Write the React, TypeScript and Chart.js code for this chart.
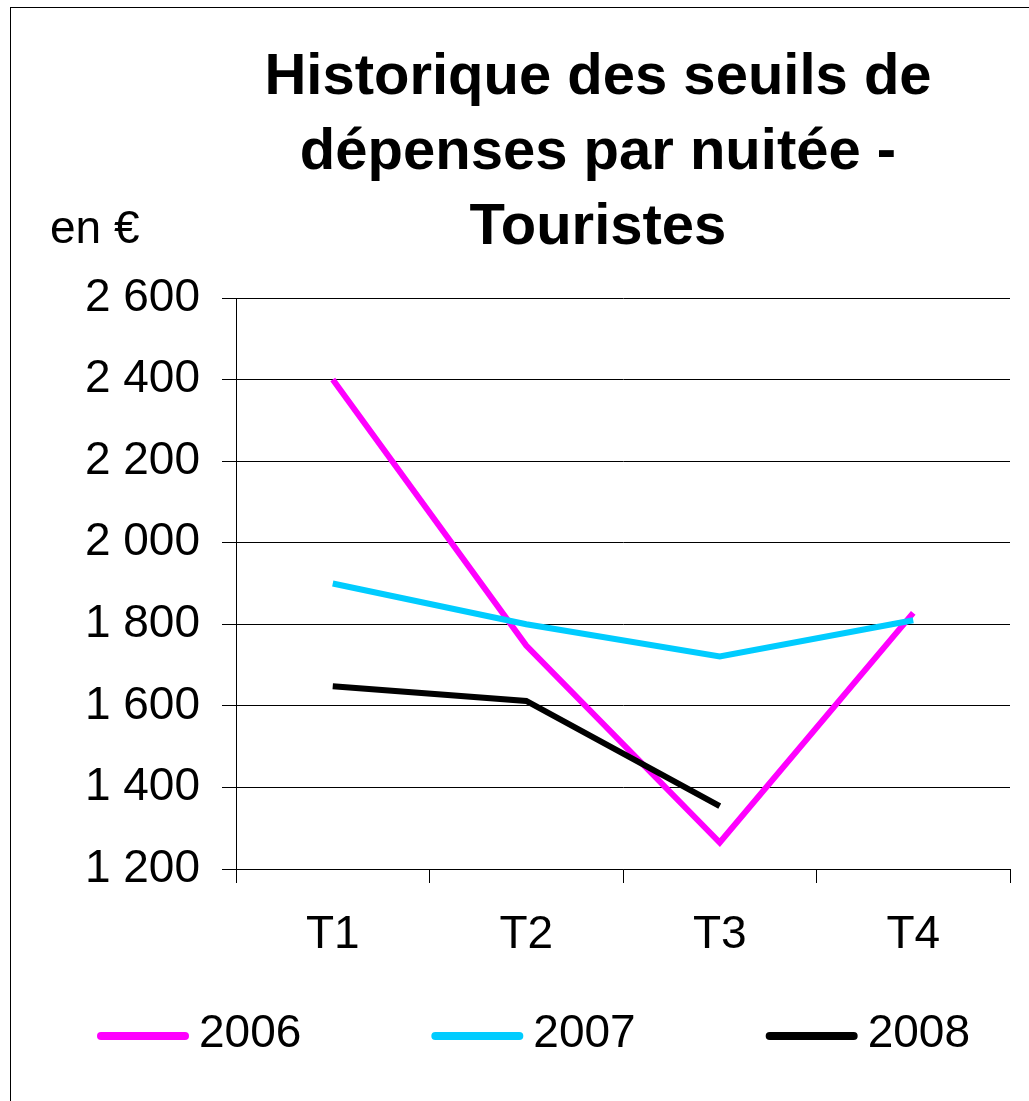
import React, { useEffect, useRef } from "react";
import { Chart, registerables } from "chart.js";

Chart.register(...registerables);

const categories = ["T1", "T2", "T3", "T4"];
const seriesNames = ["2006", "2007", "2008"];
const values2006 = [2400, 1748, 1265, 1828];
const values2007 = [1900, 1800, 1721, 1810];
const values2008: (number | null)[] = [1648, 1612, 1354, null];
const seriesColors = ["#FF00FF", "#00CCFF", "#000000"];
const yMin = 1200;
const yMax = 2600;
const yStep = 200;
const titleLines = ["Historique des seuils de", "dépenses par nuitée -", "Touristes"];
const unitLabel = "en €";

const FONT = '"Liberation Sans", Arial, Helvetica, sans-serif';
const W = 1174;
const H = 1120;

function fmt(v: number): string {
  return String(v).replace(/\B(?=(\d{3})+(?!\d))/g, " ");
}

export default function App() {
  const ref = useRef<HTMLCanvasElement | null>(null);

  useEffect(() => {
    if (!ref.current) return;
    const seriesValues = [values2006, values2007, values2008];

    const extras = {
      id: "extras",
      afterDraw(chart: any) {
        const ctx = chart.ctx as CanvasRenderingContext2D;
        ctx.save();
        ctx.fillStyle = "#000";
        ctx.font = `46px ${FONT}`;
        ctx.textAlign = "left";
        ctx.textBaseline = "alphabetic";
        ctx.fillText(unitLabel, 39, 235);

        // legend
        let x = 86;
        const lineY = 1028;
        const textBase = 1039;
        const lineLen = 92;
        const lw = 8;
        seriesNames.forEach((name, i) => {
          ctx.strokeStyle = seriesColors[i];
          ctx.lineWidth = lw;
          ctx.lineCap = "round";
          ctx.beginPath();
          ctx.moveTo(x + lw / 2, lineY);
          ctx.lineTo(x + lineLen - lw / 2, lineY);
          ctx.stroke();
          const tx = x + lineLen + 10;
          ctx.fillStyle = "#000";
          ctx.fillText(name, tx, textBase);
          x = tx + ctx.measureText(name).width + 130;
        });
        ctx.restore();
      },
    };

    const chart = new Chart(ref.current, {
      type: "line",
      data: {
        labels: categories,
        datasets: seriesNames.map((name, i) => ({
          label: name,
          data: seriesValues[i],
          borderColor: seriesColors[i],
          backgroundColor: seriesColors[i],
          borderWidth: 6,
          pointRadius: 0,
          pointHoverRadius: 0,
          tension: 0,
          fill: false,
          spanGaps: false,
          order: seriesNames.length - 1 - i,
        })),
      },
      options: {
        responsive: false,
        animation: false,
        devicePixelRatio: 1,
        layout: { padding: { left: 0, right: 0, top: 0, bottom: 139 } },
        plugins: {
          legend: { display: false },
          tooltip: { enabled: false },
          title: {
            display: true,
            text: titleLines,
            color: "#000",
            font: { family: FONT, size: 58, weight: "bold", lineHeight: 75 / 58 },
            padding: { top: 32, bottom: 33 },
          },
        },
        scales: {
          x: {
            offset: true,
            grid: {
              offset: true,
              drawOnChartArea: false,
              drawTicks: true,
              tickLength: 14,
              color: "#000",
              lineWidth: 1,
            },
            border: { display: true, color: "#000", width: 1 },
            ticks: {
              color: "#000",
              font: { family: FONT, size: 46 },
              padding: 25,
              maxRotation: 0,
              autoSkip: false,
            },
            afterFit: (s: any) => {
              s.height = 120;
            },
          },
          y: {
            min: yMin,
            max: yMax,
            grid: { color: "#000", lineWidth: 1, tickLength: 14, drawTicks: true },
            border: { display: true, color: "#000", width: 1 },
            ticks: {
              stepSize: yStep,
              color: "#000",
              font: { family: FONT, size: 46 },
              padding: 22,
              callback: (v: any) => fmt(Number(v)),
            },
            afterFit: (s: any) => {
              s.width = 225;
            },
          },
          yR: {
            position: "right",
            display: true,
            grid: { display: false, drawOnChartArea: false },
            border: { display: false },
            ticks: { display: false },
            afterFit: (s: any) => {
              s.width = 175;
            },
          },
        },
      },
      plugins: [extras],
    } as any);

    return () => {
      chart.destroy();
    };
  }, []);

  return (
    <div
      style={{
        position: "absolute",
        left: 0,
        top: 0,
        width: 1029,
        height: 1101,
        overflow: "hidden",
        background: "#fff",
      }}
    >
      <div
        style={{
          position: "absolute",
          left: 10,
          top: 7,
          width: W,
          height: H,
          border: "1px solid #000",
          background: "#fff",
        }}
      >
        <canvas ref={ref} width={W} height={H} style={{ width: W, height: H, display: "block" }} />
      </div>
    </div>
  );
}
